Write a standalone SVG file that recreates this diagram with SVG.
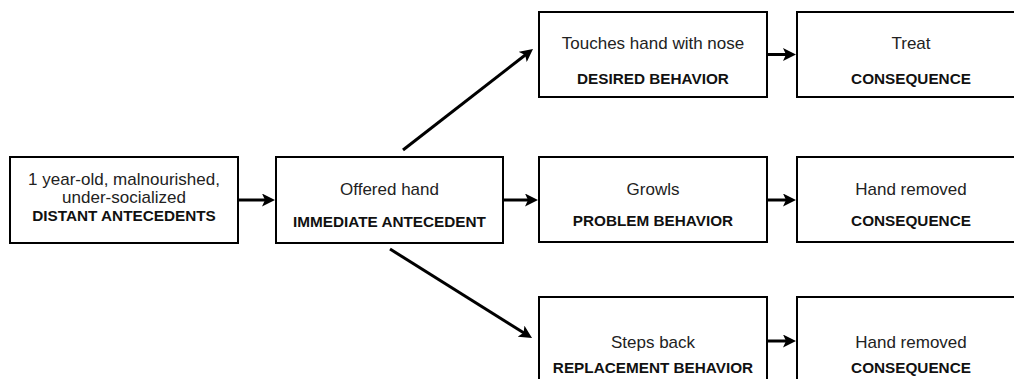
<svg xmlns="http://www.w3.org/2000/svg" width="1014" height="379" viewBox="0 0 1014 379">
<style>
.box{fill:#fff;stroke:#000;stroke-width:2}
.t{font-family:"Liberation Sans",Arial,Helvetica,sans-serif;font-size:17px;fill:#222;text-anchor:middle}
.b{font-family:"Liberation Sans",Arial,Helvetica,sans-serif;font-size:15.3px;font-weight:bold;fill:#111;text-anchor:middle}
.c{stroke:#000;stroke-width:3;fill:none;marker-end:url(#ah)}
</style>
<defs>
<marker id="ah" viewBox="0 0 13 13" refX="4" refY="6.5" markerWidth="13" markerHeight="13" orient="auto" markerUnits="userSpaceOnUse">
<path d="M0,0 L13,6.5 L0,13 L3,6.5 Z" fill="#000"/>
</marker>
</defs>
<rect width="1014" height="379" fill="#fff"/>
<g id="connectors">
<line class="c" x1="239" y1="200" x2="266" y2="200"/>
<line class="c" x1="504" y1="200" x2="529" y2="200"/>
<line class="c" x1="768" y1="54.5" x2="787" y2="54.5"/>
<line class="c" x1="768" y1="200" x2="787" y2="200"/>
<line class="c" x1="768" y1="341" x2="787" y2="341"/>
<line class="c" x1="403" y1="150" x2="525.9" y2="54.5"/>
<line class="c" x1="390" y1="249" x2="524.4" y2="333.3"/>
</g>
<g id="distant">
<rect class="box" x="10" y="157" width="228" height="86"/>
<text class="t" x="124" y="185">1 year-old, malnourished,</text>
<text class="t" x="124" y="203">under-socialized</text>
<text class="b" x="124" y="221">DISTANT ANTECEDENTS</text>
</g>
<g id="immediate">
<rect class="box" x="276" y="157" width="227" height="86"/>
<text class="t" x="389.5" y="195">Offered hand</text>
<text class="b" x="389.5" y="227">IMMEDIATE ANTECEDENT</text>
</g>
<g id="desired">
<rect class="box" x="539" y="12" width="228" height="85"/>
<text class="t" x="653" y="49">Touches hand with nose</text>
<text class="b" x="653" y="84">DESIRED BEHAVIOR</text>
</g>
<g id="consequence1">
<rect class="box" x="797" y="12" width="228" height="85"/>
<text class="t" x="911" y="49">Treat</text>
<text class="b" x="911" y="84">CONSEQUENCE</text>
</g>
<g id="problem">
<rect class="box" x="539" y="157" width="228" height="85"/>
<text class="t" x="653" y="195">Growls</text>
<text class="b" x="653" y="226">PROBLEM BEHAVIOR</text>
</g>
<g id="consequence2">
<rect class="box" x="797" y="157" width="228" height="85"/>
<text class="t" x="911" y="195">Hand removed</text>
<text class="b" x="911" y="226">CONSEQUENCE</text>
</g>
<g id="replacement">
<rect class="box" x="539" y="297" width="228" height="86"/>
<text class="t" x="653" y="348">Steps back</text>
<text class="b" x="653" y="373">REPLACEMENT BEHAVIOR</text>
</g>
<g id="consequence3">
<rect class="box" x="797" y="297" width="228" height="86"/>
<text class="t" x="911" y="348">Hand removed</text>
<text class="b" x="911" y="373">CONSEQUENCE</text>
</g>
</svg>
